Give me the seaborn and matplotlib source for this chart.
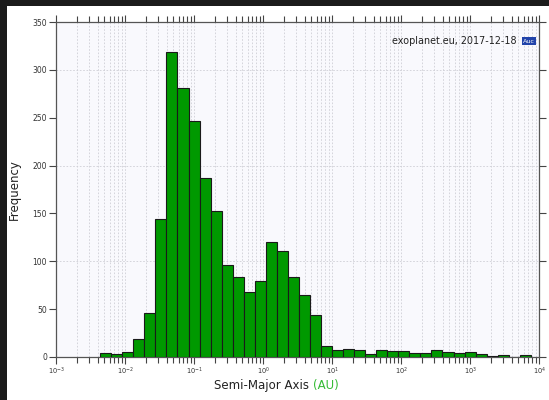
import numpy as np
import pandas as pd
import matplotlib
matplotlib.use("Agg")
import matplotlib.pyplot as plt
from matplotlib.patches import Rectangle
from matplotlib.ticker import LogLocator, FixedLocator, NullFormatter
import seaborn as sns

# Histogram of planetary semi-major axes (log10 bins of 0.16 dex)
bin_start_log = -2.36
bin_width_log = 0.16
counts = [4, 3, 5, 19, 46, 144, 319, 281, 247, 187,
          153, 96, 84, 68, 79, 120, 111, 84, 65, 44,
          11, 7, 8, 7, 3, 7, 6, 6, 4, 4,
          7, 5, 4, 5, 3, 1, 2, 0, 2]
x_decades = [1e-3, 1e-2, 1e-1, 1e0, 1e1, 1e2, 1e3, 1e4]
y_ticks = [0, 50, 100, 150, 200, 250, 300, 350]
y_grid = [100, 200, 300]
x_label = "Semi-Major Axis"
x_unit = "(AU)"
y_label = "Frequency"
credit = "exoplanet.eu, 2017-12-18"

edges_log = bin_start_log + bin_width_log * np.arange(len(counts) + 1)
centers = 10 ** (edges_log[:-1] + bin_width_log / 2)
df = pd.DataFrame({"a": centers, "n": counts})

sns.set_style("white")
plt.rcParams["font.family"] = ["DejaVu Sans"]

fig = plt.figure(figsize=(5.49, 4.0), dpi=100, facecolor="white")
ax = fig.add_axes([0.102, 0.1075, 0.880, 0.8375])
ax.set_facecolor("#f9f9fd")

sns.histplot(data=df, x="a", weights="n", bins=edges_log.tolist(), log_scale=True,
             color="#009900", edgecolor="#1a1a1a", linewidth=0.8, alpha=1.0,
             ax=ax, zorder=3)

ax.set_xlim(x_decades[0], x_decades[-1])
ax.set_ylim(y_ticks[0], y_ticks[-1])

# grid: dashed verticals on every log tick, horizontals every 100
ax.xaxis.set_major_locator(FixedLocator(x_decades))
ax.xaxis.set_minor_locator(LogLocator(base=10, subs=np.arange(2, 10), numticks=50))
ax.xaxis.set_minor_formatter(NullFormatter())
ax.grid(True, axis="x", which="both", color="#cfcfd6", linestyle=(0, (2, 2)),
        linewidth=0.6, zorder=0)
for yv in y_grid:
    ax.axhline(yv, color="#cfcfd6", linestyle=(0, (2, 2)), linewidth=0.6, zorder=0)

ax.yaxis.set_major_locator(FixedLocator(y_ticks))
ax.tick_params(axis="both", which="both", direction="out", top=True, right=True,
               bottom=True, left=True, color="#444444", width=0.8)
ax.tick_params(axis="both", which="major", length=5, labelsize=5.5,
               labelcolor="#333333", pad=1.5)
ax.tick_params(axis="x", which="minor", length=4)
ax.tick_params(axis="x", which="major", labelsize=4.8)

for s in ax.spines.values():
    s.set_visible(True)
    s.set_color("#555555")
    s.set_linewidth(0.9)

ax.set_ylabel(y_label, fontsize=8.5, color="#222222", labelpad=8)
ax.set_xlabel("")
fig.text(0.570, 0.035, x_label + " ", ha="right", va="center",
         fontsize=8.5, color="#222222")
fig.text(0.570, 0.035, x_unit, ha="left", va="center",
         fontsize=8.5, color="#33bb33")

# credit line with small badge
ax.text(0.954, 0.943, credit, transform=ax.transAxes, ha="right", va="center",
        fontsize=6.9, color="#222222", zorder=5)
ax.text(0.979, 0.943, "Auc", transform=ax.transAxes, ha="center", va="center",
        fontsize=4.6, color="white", zorder=5,
        bbox=dict(boxstyle="square,pad=0.2", fc="#2244aa", ec="none"))

# dark frame along the top and left edges
fig.patches.append(Rectangle((0, 1 - 6 / 400), 1, 6 / 400, transform=fig.transFigure,
                             facecolor="#1b1b1b", edgecolor="none", zorder=10))
fig.patches.append(Rectangle((0, 0), 7 / 549, 1, transform=fig.transFigure,
                             facecolor="#1b1b1b", edgecolor="none", zorder=10))

fig.savefig("out.png", dpi=100, facecolor="white")
